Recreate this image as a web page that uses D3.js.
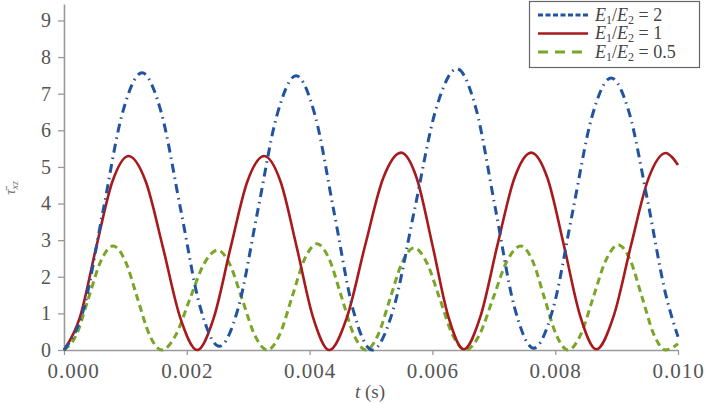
<!DOCTYPE html>
<html>
<head>
<meta charset="utf-8">
<script src="https://cdn.jsdelivr.net/npm/d3@7"></script>
<style>
  html, body { margin: 0; padding: 0; background: #fff; }
  svg { display: block; }
</style>
</head>
<body>
<svg id="chart" width="715" height="404"></svg>
<script>
// ---- Data ----
const seriesNames = ["E1/E2 = 2", "E1/E2 = 1", "E1/E2 = 0.5"];
const xTicks = [0, 0.002, 0.004, 0.006, 0.008, 0.010];
const xTickLabels = ["0.000", "0.002", "0.004", "0.006", "0.008", "0.010"];
const yTicks = [0, 1, 2, 3, 4, 5, 6, 7, 8, 9];

const tBlue = [0, 0.000318, 0.000635, 0.00095, 0.00127,
  0.001585, 0.0019, 0.002215, 0.00253,
  0.002843, 0.003155, 0.003468, 0.00378,
  0.00409, 0.0044, 0.00471, 0.00502,
  0.005365, 0.00571, 0.006055, 0.0064,
  0.006713, 0.007025, 0.007338, 0.00765,
  0.007965, 0.00828, 0.008595, 0.00891,
  0.0092, 0.0095, 0.0098, 0.010];
const vBlue = [0, 1.11, 3.79, 6.46, 7.57,
  6.48, 3.84, 1.19, 0.10,
  1.18, 3.80, 6.41, 7.49,
  6.40, 3.75, 1.09, 0.0,
  1.12, 3.84, 6.56, 7.68,
  6.57, 3.87, 1.16, 0.05,
  1.13, 3.74, 6.35, 7.43,
  6.51, 4.12, 1.52, 0.36];

const tRed = [0, 0.00026, 0.000525, 0.00079, 0.00105,
  0.00133, 0.00161, 0.00189, 0.00217,
  0.002443, 0.002715, 0.002988, 0.00326,
  0.003525, 0.00379, 0.004055, 0.00432,
  0.004613, 0.004905, 0.005198, 0.00549,
  0.005745, 0.0060, 0.006255, 0.00651,
  0.006785, 0.00706, 0.007335, 0.00761,
  0.007875, 0.00814, 0.008405, 0.00867,
  0.008953, 0.009235, 0.009518, 0.0098,
  0.0099, 0.010];
const vRed = [0, 0.90, 2.81, 4.61, 5.30,
  4.61, 2.81, 0.90, 0.0,
  0.90, 2.81, 4.61, 5.30,
  4.61, 2.81, 0.90, 0.0,
  0.92, 2.86, 4.69, 5.39,
  4.69, 2.87, 0.94, 0.02,
  0.93, 2.87, 4.69, 5.39,
  4.69, 2.87, 0.94, 0.02,
  0.93, 2.86, 4.68, 5.38,
  5.27, 5.05];

const tGreen = [0, 0.0002, 0.0004, 0.0006, 0.0008,
  0.000998, 0.001195, 0.001393, 0.00159,
  0.001818, 0.002045, 0.002273, 0.0025,
  0.002703, 0.002905, 0.003108, 0.00331,
  0.003513, 0.003715, 0.003918, 0.00412,
  0.00432, 0.00452, 0.00472, 0.00492,
  0.005115, 0.00531, 0.005505, 0.0057,
  0.00591, 0.00612, 0.00633, 0.00654,
  0.006765, 0.00699, 0.007215, 0.00744,
  0.007633, 0.007825, 0.008018, 0.00821,
  0.008415, 0.00862, 0.008825, 0.00903,
  0.009223, 0.009415, 0.009608, 0.0098,
  0.010];
const vGreen = [0, 0.41, 1.42, 2.43, 2.84,
  2.43, 1.42, 0.41, 0.0,
  0.40, 1.37, 2.33, 2.73,
  2.33, 1.37, 0.40, 0.0,
  0.42, 1.45, 2.48, 2.90,
  2.48, 1.45, 0.42, 0.0,
  0.41, 1.40, 2.38, 2.79,
  2.38, 1.40, 0.41, 0.0,
  0.41, 1.42, 2.43, 2.84,
  2.43, 1.42, 0.41, 0.0,
  0.42, 1.44, 2.45, 2.87,
  2.45, 1.44, 0.42, 0.0,
  0.17];

// ---- Layout / styling ----
const svg = d3.select("#chart");
const x = d3.scaleLinear().domain([0, 0.010]).range([64, 678]);
const y = d3.scaleLinear().domain([0, 9.45]).range([350, 4]);

const axisColor = "#9a9a9a";
const labelColor = "#555";
const SERIF = '"Liberation Serif"';

// X axis
const xAxis = d3.axisBottom(x).tickValues(xTicks)
  .tickFormat((d, i) => xTickLabels[i]).tickSize(5).tickSizeOuter(0).tickPadding(8);
const gx = svg.append("g").attr("transform", `translate(0,${y(0)})`).call(xAxis);
gx.attr("font-family", null);
gx.select(".domain").attr("stroke", axisColor).attr("stroke-width", 1.6);
gx.selectAll(".tick line").attr("stroke", axisColor).attr("stroke-width", 1.3);
gx.selectAll(".tick text").style("font-family", SERIF).attr("fill", labelColor)
  .attr("font-size", 21).attr("letter-spacing", 1).attr("dy", "0.71em")
  .attr("dx", (d, i) => i === 0 ? 9 : 0);

// Y axis
const yAxis = d3.axisLeft(y).tickValues(yTicks).tickFormat(d3.format("d"))
  .tickSize(6).tickSizeOuter(0).tickPadding(7);
const gy = svg.append("g").attr("transform", `translate(${x(0)},0)`).call(yAxis);
gy.attr("font-family", null);
gy.select(".domain").attr("stroke", axisColor).attr("stroke-width", 1.6);
gy.selectAll(".tick line").attr("stroke", axisColor).attr("stroke-width", 1.3);
gy.selectAll(".tick text").style("font-family", SERIF).attr("fill", labelColor)
  .attr("font-size", 20);

// Series
const series = [
  { t: tGreen, v: vGreen, color: "#79a528", width: 3, dash: "7,4.5" },
  { t: tRed, v: vRed, color: "#a8191c", width: 2.6, dash: null },
  { t: tBlue, v: vBlue, color: "#21539f", width: 3, dash: "9,5,1.5,5" }
];
const line = d3.line().x(d => x(d[0])).y(d => y(d[1])).curve(d3.curveMonotoneX);
series.forEach(s => {
  const pts = s.t.map((t, i) => [t, s.v[i]]);
  const p = svg.append("path").datum(pts).attr("d", line)
    .attr("fill", "none").attr("stroke", s.color).attr("stroke-width", s.width)
    .attr("stroke-linecap", "butt").attr("stroke-linejoin", "round");
  if (s.dash) p.attr("stroke-dasharray", s.dash);
});

// Axis titles
const xt = svg.append("text").style("font-family", SERIF).attr("x", 370).attr("y", 398)
  .attr("text-anchor", "middle").attr("fill", labelColor).attr("font-size", 19);
xt.append("tspan").attr("font-style", "italic").text("t");
xt.append("tspan").text(" (s)");

const yt = svg.append("text").style("font-family", SERIF).attr("transform", "translate(15,188) rotate(-90)")
  .attr("text-anchor", "middle").attr("fill", "#777").attr("font-size", 15);
yt.append("tspan").attr("font-style", "italic").text("τ\u0304");
yt.append("tspan").attr("font-style", "italic").attr("font-size", 10).attr("dy", 3).text("xz");

// Legend
const lg = svg.append("g");
lg.append("rect").attr("x", 529.5).attr("y", 1.5).attr("width", 170).attr("height", 66)
  .attr("fill", "#fff").attr("stroke", "#666").attr("stroke-width", 1.2);
const legendItems = [
  { name: seriesNames[0], sub: ["1", "2"], val: "2", color: "#21539f", width: 3, dash: "5,2.5" },
  { name: seriesNames[1], sub: ["1", "2"], val: "1", color: "#a8191c", width: 2.6, dash: null },
  { name: seriesNames[2], sub: ["1", "2"], val: "0.5", color: "#79a528", width: 3, dash: "10,7" }
];
legendItems.forEach((it, i) => {
  const cy = 15 + i * 18.5;
  const l = lg.append("line").attr("x1", 538).attr("x2", 588).attr("y1", cy).attr("y2", cy)
    .attr("stroke", it.color).attr("stroke-width", it.width);
  if (it.dash) l.attr("stroke-dasharray", it.dash);
  const tx = lg.append("text").style("font-family", SERIF).attr("x", 595).attr("y", cy + 5.5)
    .attr("fill", "#444").attr("font-size", 18);
  tx.append("tspan").attr("font-style", "italic").text("E");
  tx.append("tspan").attr("font-size", 12).attr("dy", 3).text(it.sub[0]);
  tx.append("tspan").attr("dy", -3).text("/");
  tx.append("tspan").attr("font-style", "italic").text("E");
  tx.append("tspan").attr("font-size", 12).attr("dy", 3).text(it.sub[1]);
  tx.append("tspan").attr("dy", -3).text(" = " + it.val);
});
</script>
</body>
</html>
